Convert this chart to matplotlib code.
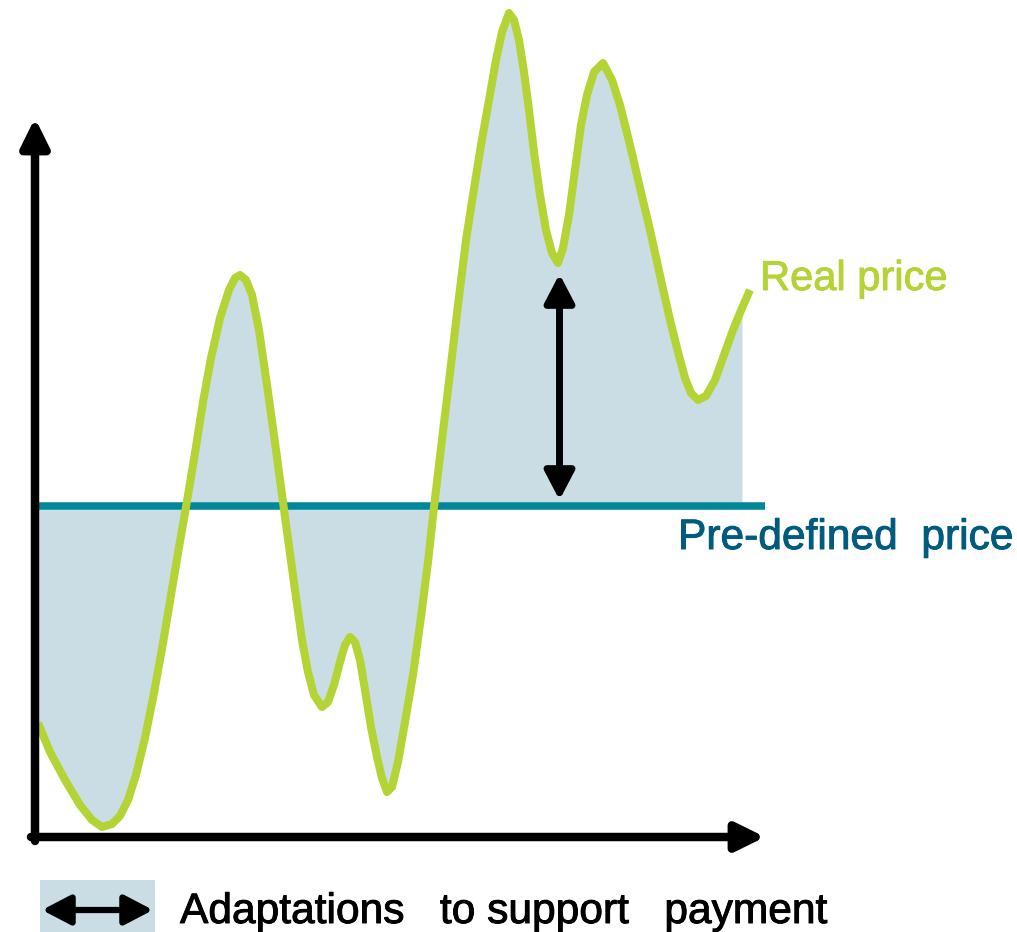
import numpy as np
import matplotlib
matplotlib.use("Agg")
from matplotlib import pyplot as plt
from matplotlib.patches import Rectangle
import matplotlib.patheffects as pe

plt.rcParams['font.family'] = ['Liberation Sans', 'DejaVu Sans']

# time axis and real price
t = [2, 14, 29, 44, 56, 66, 76, 84, 92, 100, 109, 118, 127, 135, 142, 150, 159, 167, 175, 184,
     193, 199, 204, 210, 216, 223, 231, 240, 249, 259, 266, 272, 278, 286, 292, 298, 304, 309,
     314, 319, 324, 329, 335, 341, 346, 351, 356, 362, 369, 377, 385, 392, 398, 405, 414, 422,
     430, 437, 445, 453, 460, 466, 473, 478, 483, 488, 493, 498, 504, 510, 516, 522, 527, 533,
     539, 545, 551, 558, 567, 576, 584, 594, 604, 614, 625, 634, 642, 649, 655, 662, 670, 679,
     688, 697, 706, 714]
real_price = [112, 83, 55, 30, 15, 8, 11, 19, 35, 60, 97, 142, 192, 240, 282, 328, 382, 433,
              477, 517, 545, 557, 560, 555, 540, 505, 450, 385, 318, 245, 195, 163, 140, 128,
              133, 150, 173, 190, 198, 193, 175, 145, 108, 78, 57, 43, 48, 73, 113, 160, 218,
              273, 328, 387, 462, 530, 595, 640, 690, 735, 775, 803, 822, 815, 795, 763, 725,
              683, 640, 605, 582, 572, 587, 620, 665, 710, 740, 763, 772, 755, 730, 690, 647,
              605, 555, 515, 483, 457, 442, 435, 439, 455, 480, 505, 527, 545]
predefined_price = 329
t_end = 729
fill_end = 709

green = '#b4d334'
teal = '#00889a'
fill_col = '#cadde5'
dark_teal = '#005b7f'

t = np.array(t, dtype=float)
real_price = np.array(real_price, dtype=float)
assert len(t) == len(real_price)

fig = plt.figure(figsize=(10.17, 9.32), dpi=100)
ax = fig.add_axes([0, 0, 1, 1])
ax.set_xlim(-36, 981)
ax.set_ylim(-97, 835)
ax.axis('off')

# shaded gap between real and pre-defined price
ax.fill_between(t, real_price, predefined_price, where=t <= fill_end, color=fill_col,
                lw=0, zorder=1)

# pre-defined price line
ax.plot([0, t_end], [predefined_price, predefined_price], color=teal, lw=5.4, zorder=2,
        solid_capstyle='butt')

# real price curve
ax.plot(t, real_price, color=green, lw=5.8, zorder=3, solid_joinstyle='round',
        solid_capstyle='butt')

# axes arrows
axis_arrow = dict(arrowstyle='-|>,head_length=0.85,head_width=0.42', lw=6.1, color='black',
                  mutation_scale=20, shrinkA=0, shrinkB=0)
ax.annotate('', xy=(-1, 717), xytext=(-1, -6), arrowprops=axis_arrow, zorder=4)
ax.annotate('', xy=(729, -2), xytext=(-5, -2), arrowprops=axis_arrow, zorder=4)

# double arrow showing the support payment
dbl_arrow = dict(arrowstyle='<|-|>,head_length=0.86,head_width=0.45', lw=5, color='black',
                 mutation_scale=20, shrinkA=0, shrinkB=0)
ax.annotate('', xy=(523.5, 561), xytext=(523.5, 335), arrowprops=dbl_arrow, zorder=4)

# labels
ax.text(724, 545, 'Real price', color=green, fontsize=30, va='baseline', ha='left',
        path_effects=[pe.withStroke(linewidth=0.7, foreground=green)])
ax.text(642, 286, 'Pre-defined  price', color=dark_teal, fontsize=30.6, va='baseline',
        ha='left', path_effects=[pe.withStroke(linewidth=0.7, foreground=dark_teal)])

# legend
ax.add_patch(Rectangle((4, -97), 115, 52, color=fill_col, lw=0, zorder=1))
legend_arrow = dict(arrowstyle='<|-|>,head_length=0.86,head_width=0.45', lw=4.5,
                    color='black', mutation_scale=20, shrinkA=0, shrinkB=0)
ax.annotate('', xy=(6, -75), xytext=(117, -75), arrowprops=legend_arrow, zorder=4)
ax.text(144, -88, 'Adaptations   to support   payment', color='black', fontsize=30.6,
        va='baseline', ha='left',
        path_effects=[pe.withStroke(linewidth=0.7, foreground='black')])

fig.savefig('out.png', dpi=100)
